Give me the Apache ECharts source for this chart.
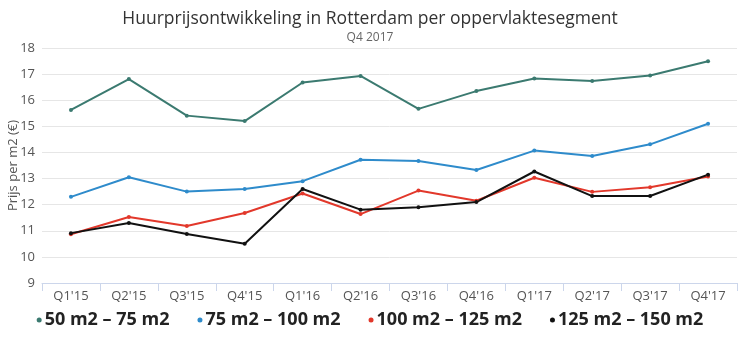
<!DOCTYPE html>
<html><head><meta charset="utf-8">
<script src="https://cdn.jsdelivr.net/npm/echarts@6/dist/echarts.min.js"></script>
<style>html,body{margin:0;padding:0;background:#fff}#c{width:740px;height:337px}</style>
</head><body><div id="c"></div>
<script>
const categories = ["Q1'15","Q2'15","Q3'15","Q4'15","Q1'16","Q2'16","Q3'16","Q4'16","Q1'17","Q2'17","Q3'17","Q4'17"];
const s50_75   = [15.63,16.81,15.41,15.20,16.68,16.93,15.67,16.35,16.83,16.74,16.95,17.49];
const s75_100  = [12.30,13.05,12.50,12.60,12.90,13.72,13.67,13.33,14.07,13.86,14.31,15.10];
const s100_125 = [10.87,11.53,11.18,11.68,12.43,11.64,12.54,12.15,13.03,12.49,12.67,13.08];
const s125_150 = [10.91,11.30,10.88,10.50,12.60,11.81,11.90,12.10,13.27,12.33,12.33,13.15];
const seriesNames = ["50 m2 – 75 m2","75 m2 – 100 m2","100 m2 – 125 m2","125 m2 – 150 m2"];
const colors = ["#3b7a70","#2e8bcb","#e2382b","#111111"];
const FONT = "Open Sans";

const chart = echarts.init(document.getElementById('c'));
const data = [s50_75, s75_100, s100_125, s125_150];
chart.setOption({
  animation:false,
  color: colors,
  title:{
    text:'Huurprijsontwikkeling in Rotterdam per oppervlaktesegment',
    subtext:'Q4 2017',
    left:'center', top:5, itemGap:4,
    textStyle:{fontFamily:FONT,fontSize:17.5,fontWeight:'normal',color:'#333'},
    subtextStyle:{fontFamily:FONT,fontSize:12,color:'#666'}
  },
  legend:{
    bottom:3, left:'center',
    icon:'circle', itemWidth:5, itemHeight:5, itemGap:28,
    textStyle:{fontFamily:FONT,fontSize:18,fontWeight:'bold',color:'#222',padding:[0,0,0,-2]},
    data:seriesNames
  },
  grid:{left:42,right:3,top:48,bottom:54,containLabel:false,outerBoundsMode:'none'},
  xAxis:{
    type:'category', data:categories, boundaryGap:true,
    axisLine:{lineStyle:{color:'#ccd6eb'}},
    axisTick:{show:true,alignWithLabel:false,length:8,lineStyle:{color:'#ccd6eb'}},
    axisLabel:{fontFamily:FONT,fontSize:13,color:'#555',margin:7}
  },
  yAxis:{
    type:'value', min:9, max:18, interval:1,
    name:'Prijs per m2 (€)', nameLocation:'middle', nameGap:22, nameRotate:90,
    nameMoveOverlap:false,
    nameTextStyle:{fontFamily:FONT,fontSize:13,color:'#555'},
    axisLine:{show:false}, axisTick:{show:false},
    axisLabel:{fontFamily:FONT,fontSize:13,color:'#555',margin:7},
    splitLine:{lineStyle:{color:'#e6e6e6'}}
  },
  series: data.map((d,i)=>({
    name:seriesNames[i], type:'line', data:d,
    symbol:'circle', symbolSize:4, showSymbol:true,
    lineStyle:{width:2,color:colors[i]},
    itemStyle:{color:colors[i]}
  }))
});
</script></body></html>
